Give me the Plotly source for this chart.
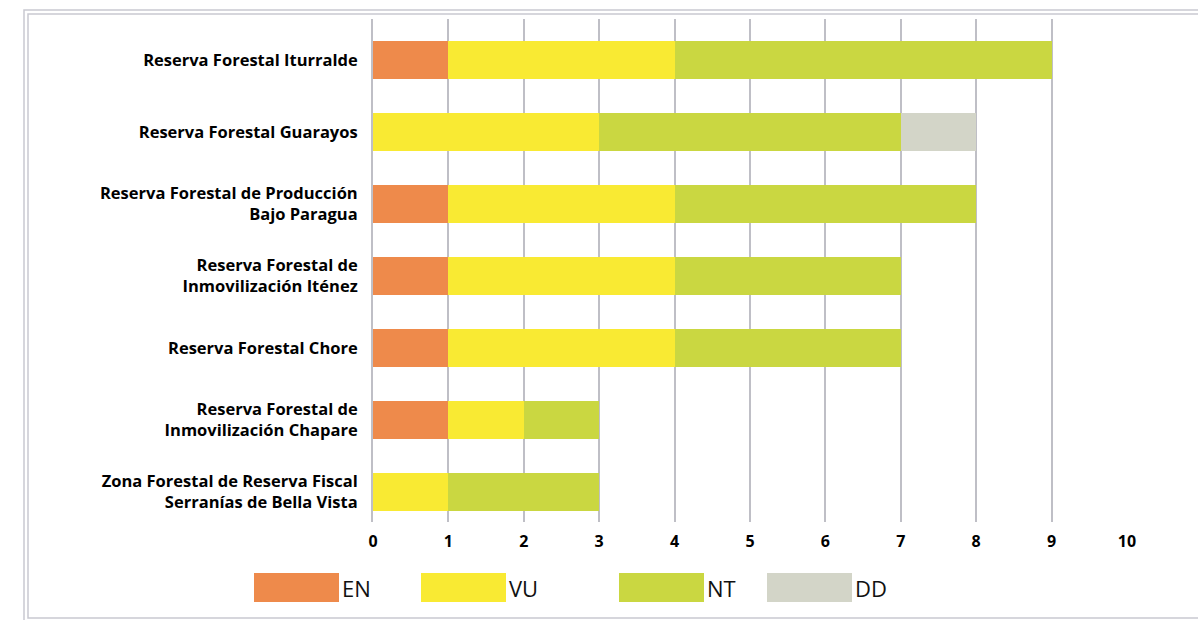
import plotly.graph_objects as go

# categorias de arriba hacia abajo
categorias = [
    "Reserva Forestal Iturralde",
    "Reserva Forestal Guarayos",
    "Reserva Forestal de Producción<br>Bajo Paragua",
    "Reserva Forestal de<br>Inmovilización Iténez",
    "Reserva Forestal Chore",
    "Reserva Forestal de<br>Inmovilización Chapare",
    "Zona Forestal de Reserva Fiscal<br>Serranías de Bella Vista",
]
en = [1, 0, 1, 1, 1, 1, 0]
vu = [3, 3, 3, 3, 3, 1, 1]
nt = [5, 4, 4, 3, 3, 1, 2]
dd = [0, 1, 0, 0, 0, 0, 0]

series = [("EN", en, "#EE8A4B"), ("VU", vu, "#F9EA33"),
          ("NT", nt, "#CAD741"), ("DD", dd, "#D3D5C8")]

W, H = 1198, 620
L, R, T, B = 373, 1127, 19, 522

fig = go.Figure()
for nombre, valores, color in series:
    fig.add_trace(go.Bar(
        y=categorias, x=valores, name=nombre, orientation="h",
        marker=dict(color=color, line=dict(width=0)),
        hoverinfo="x+name"
    ))

def px(x):
    return (x - L) / (R - L)

def py(y):
    return (B - y) / (B - T)

# leyenda dibujada a mano (cuadros grandes como en el original)
leyenda_x = [254, 421, 619, 767]
for (nombre, valores, color), x0 in zip(series, leyenda_x):
    fig.add_shape(type="rect", xref="paper", yref="paper",
                  x0=px(x0), x1=px(x0 + 85), y0=py(573), y1=py(602),
                  fillcolor=color, line=dict(width=0))
    fig.add_annotation(x=px(x0 + 86), y=py(587.5), xref="paper", yref="paper",
                       text=nombre, showarrow=False, xanchor="left", yanchor="middle",
                       font=dict(family="Open Sans", size=22, color="#111111"))

# marco doble alrededor del grafico
for x0, y0 in [(24, 10), (28, 14)]:
    fig.add_shape(type="rect", xref="paper", yref="paper",
                  x0=px(x0), x1=px(W + 20), y0=py(y0), y1=py(618 + (28 - x0)),
                  line=dict(color="#C9C9D1", width=1.5), fillcolor="rgba(0,0,0,0)",
                  layer="below")

fig.update_layout(
    barmode="stack",
    bargap=0.47,
    width=W, height=H,
    margin=dict(l=L, r=W - R, t=T, b=H - B),
    paper_bgcolor="white",
    plot_bgcolor="white",
    showlegend=False,
    font=dict(family="Open Sans", color="black"),
    xaxis=dict(
        range=[0, 10], dtick=1, tick0=0,
        showgrid=True, gridcolor="#BFBFC6", gridwidth=2,
        zeroline=False, showline=False, automargin=False,
        ticks="", ticklabelstandoff=8,
        tickfont=dict(family="Open Sans", size=16, color="black", weight="bold"),
    ),
    yaxis=dict(
        range=[6.42, -0.57], automargin=False,
        showline=True, linecolor="#BFBFC6", linewidth=2,
        showgrid=False, ticks="", ticklabelstandoff=10,
        tickfont=dict(family="Open Sans", size=16.5, color="black", weight="bold"),
    ),
)

fig.write_html("out.html", config=dict(displayModeBar=False),
               post_script="document.body.style.margin='0';")
